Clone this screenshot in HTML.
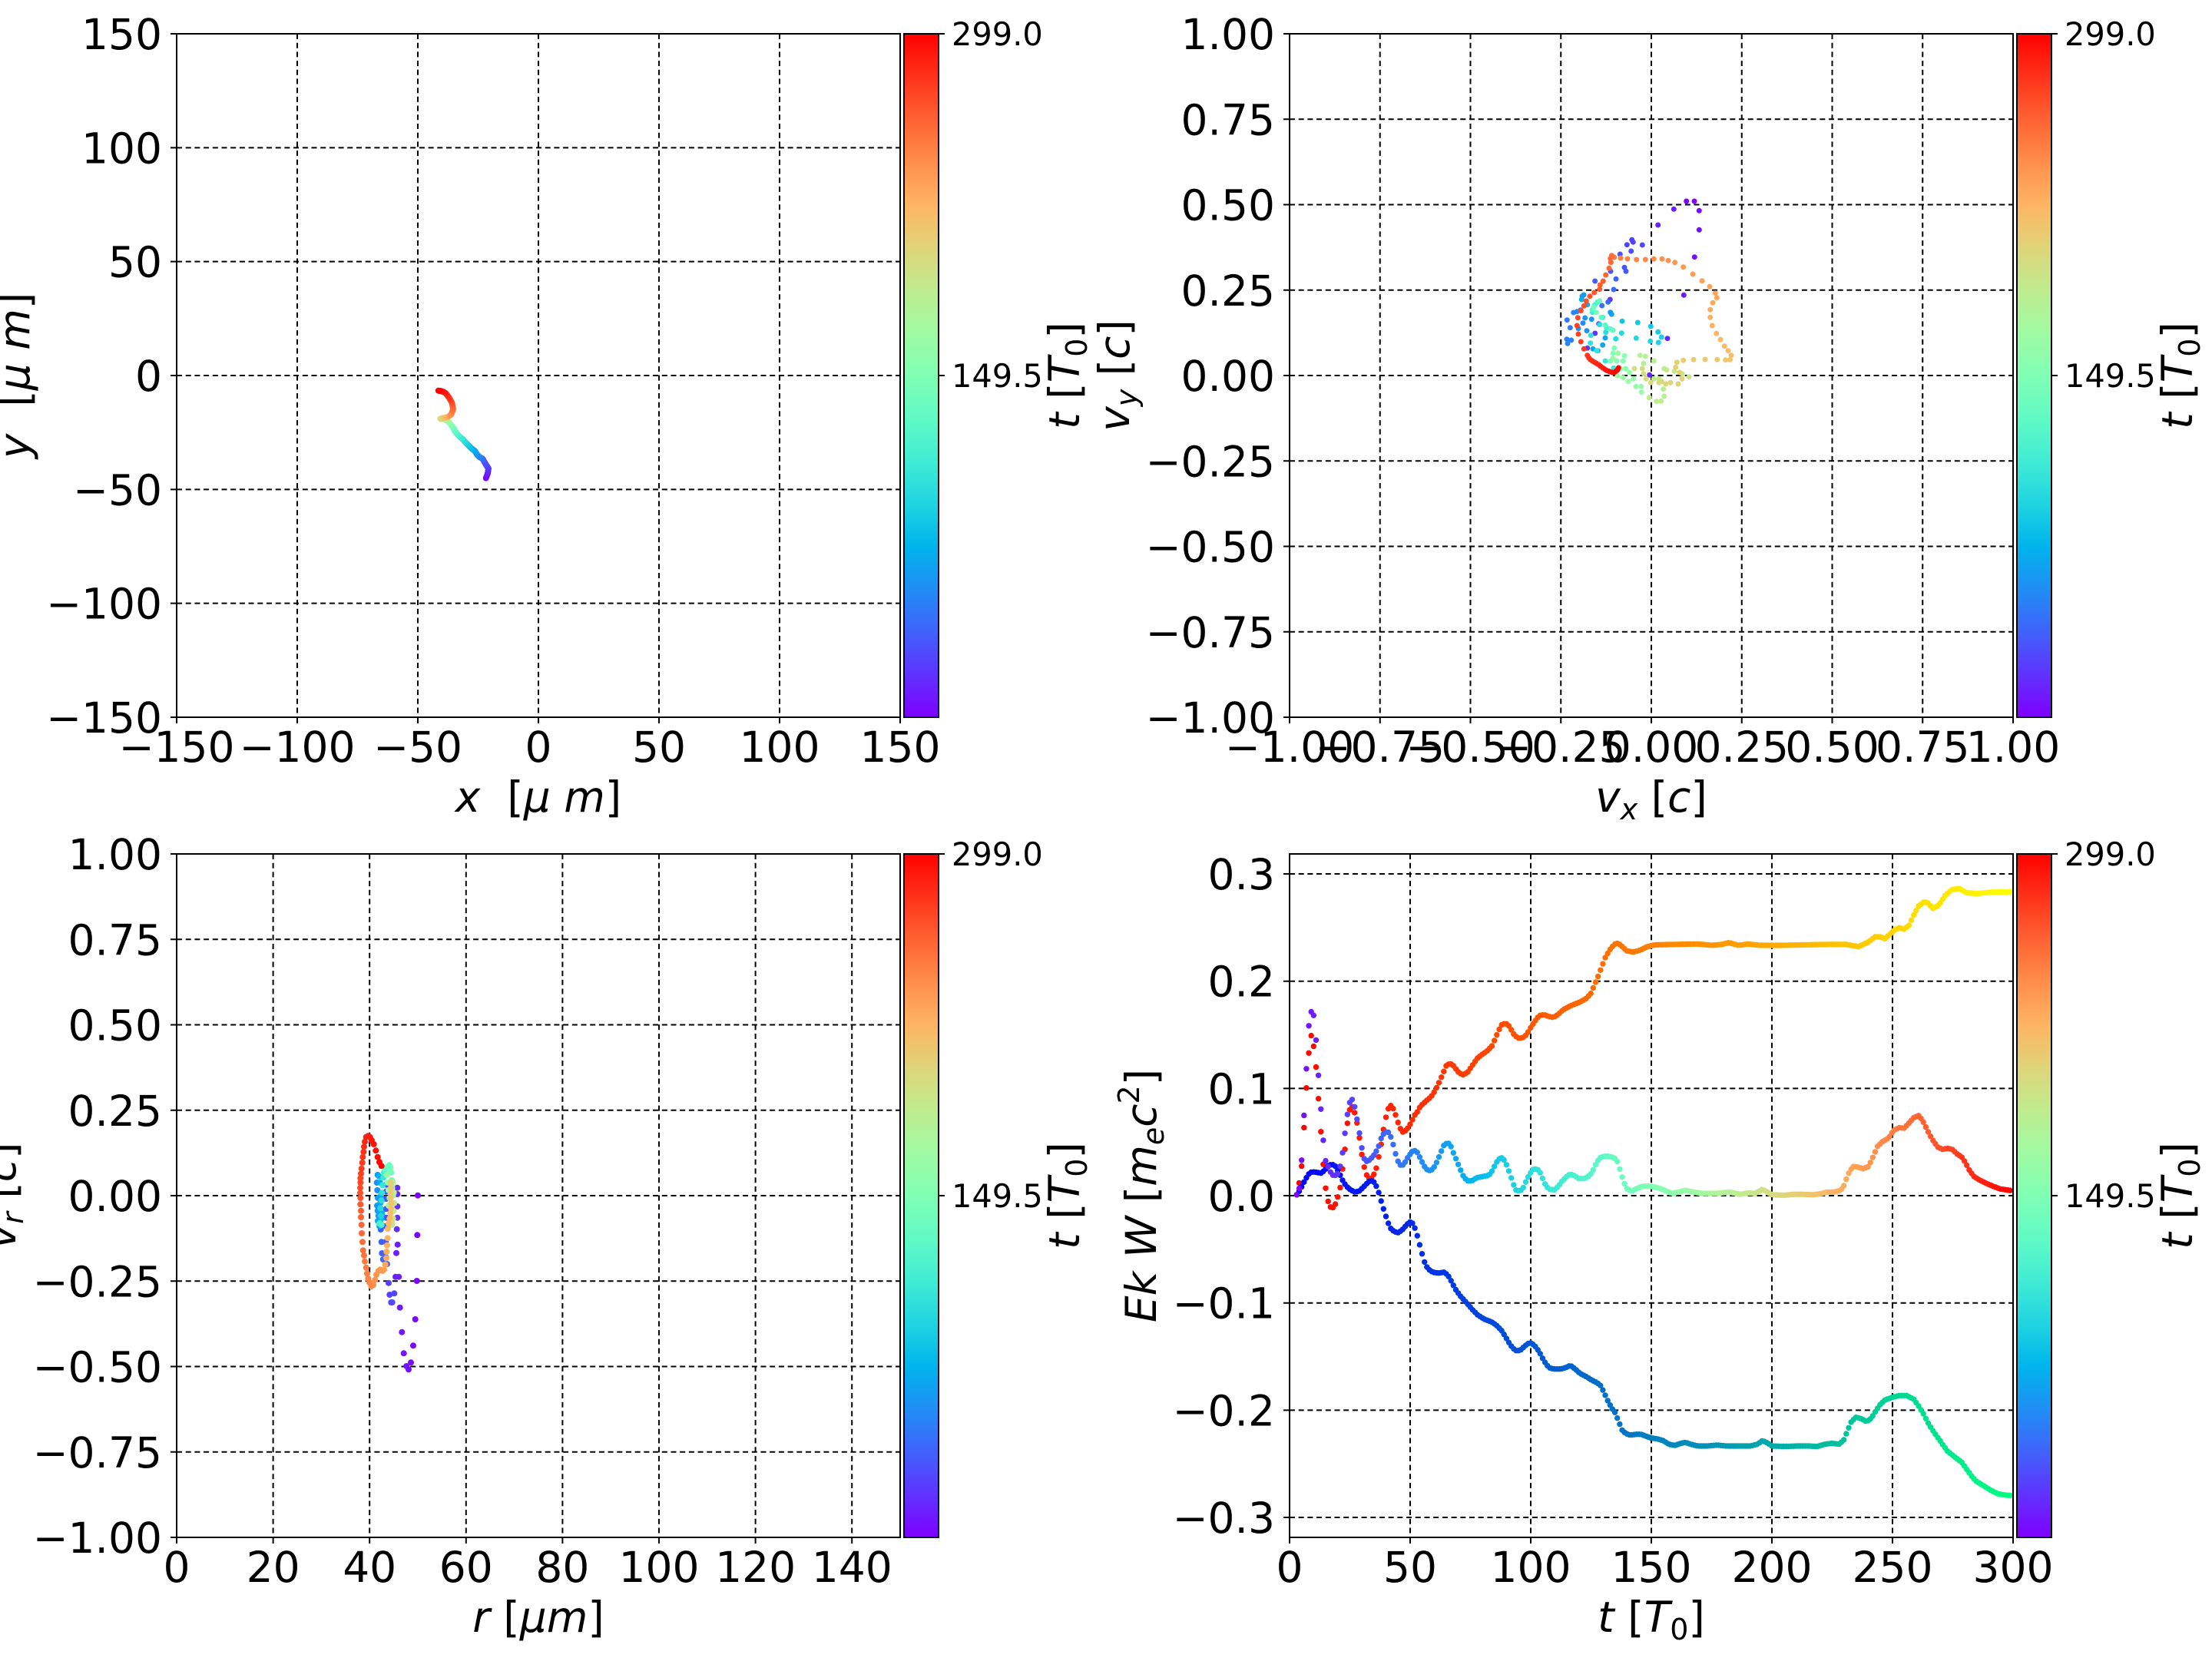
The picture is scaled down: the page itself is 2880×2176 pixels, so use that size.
<!DOCTYPE html>
<html><head><meta charset="utf-8"><style>
html,body{margin:0;padding:0;background:#fff;}
svg{display:block;}
text{font-family:"DejaVu Sans","Liberation Sans",sans-serif;fill:#000;white-space:pre;}
.tk{font-size:55px;}
.cb{font-size:41.5px;}
.lb{font-size:55px;}
.it{font-style:italic;}
.grid{stroke:#000;stroke-width:2;stroke-dasharray:7 4.7;fill:none;}
.tick{stroke:#000;stroke-width:2;fill:none;}
.spine{stroke:#000;stroke-width:2;fill:none;}
</style></head><body>
<svg id="svg" xmlns="http://www.w3.org/2000/svg" width="2880" height="2176" viewBox="0 0 2880 2176">
<defs>
<linearGradient id="rb" x1="0" y1="1" x2="0" y2="0">
<stop offset="0" stop-color="rgb(127,0,255)"/>
<stop offset="0.0625" stop-color="rgb(96,50,254)"/>
<stop offset="0.125" stop-color="rgb(64,98,250)"/>
<stop offset="0.1875" stop-color="rgb(32,142,244)"/>
<stop offset="0.25" stop-color="rgb(0,180,236)"/>
<stop offset="0.3125" stop-color="rgb(32,212,225)"/>
<stop offset="0.375" stop-color="rgb(64,236,212)"/>
<stop offset="0.4375" stop-color="rgb(96,250,197)"/>
<stop offset="0.5" stop-color="rgb(128,255,180)"/>
<stop offset="0.5625" stop-color="rgb(159,250,162)"/>
<stop offset="0.625" stop-color="rgb(191,236,142)"/>
<stop offset="0.6875" stop-color="rgb(223,212,120)"/>
<stop offset="0.75" stop-color="rgb(255,180,98)"/>
<stop offset="0.8125" stop-color="rgb(255,142,74)"/>
<stop offset="0.875" stop-color="rgb(255,98,50)"/>
<stop offset="0.9375" stop-color="rgb(255,50,25)"/>
<stop offset="1" stop-color="rgb(255,0,0)"/>
</linearGradient>
</defs>

<!-- GRIDS -->
<path class="grid" d="M387 44V934M544 44V934M701 44V934M858 44V934M1015 44V934M230 192.33H1172M230 340.67H1172M230 489H1172M230 637.33H1172M230 785.67H1172"/>
<path class="grid" d="M1796.75 44V934M1914.5 44V934M2032.25 44V934M2150 44V934M2267.75 44V934M2385.5 44V934M2503.25 44V934M1679 155.25H2621M1679 266.5H2621M1679 377.75H2621M1679 489H2621M1679 600.25H2621M1679 711.5H2621M1679 822.75H2621"/>
<path class="grid" d="M355.6 1112V2002M481.2 1112V2002M606.8 1112V2002M732.4 1112V2002M858 1112V2002M983.6 1112V2002M1109.2 1112V2002M230 1223.25H1172M230 1334.5H1172M230 1445.75H1172M230 1557H1172M230 1668.25H1172M230 1779.5H1172M230 1890.75H1172"/>
<path class="grid" d="M1836 1112V2002M1993 1112V2002M2150 1112V2002M2307 1112V2002M2464 1112V2002M1679 1138H2621M1679 1277.7H2621M1679 1417.4H2621M1679 1557H2621M1679 1696.7H2621M1679 1836.4H2621M1679 1976H2621"/>

<g id="dots"></g>

<!-- SPINES -->
<rect class="spine" x="230" y="44" width="942" height="890"/>
<rect class="spine" x="1679" y="44" width="942" height="890"/>
<rect class="spine" x="230" y="1112" width="942" height="890"/>
<rect class="spine" x="1679" y="1112" width="942" height="890"/>

<!-- TICKS -->
<path class="tick" d="M230 934v8M387 934v8M544 934v8M701 934v8M858 934v8M1015 934v8M1172 934v8M230 44h-8M230 192.33h-8M230 340.67h-8M230 489h-8M230 637.33h-8M230 785.67h-8M230 934h-8"/>
<path class="tick" d="M1679 934v8M1796.75 934v8M1914.5 934v8M2032.25 934v8M2150 934v8M2267.75 934v8M2385.5 934v8M2503.25 934v8M2621 934v8M1679 44h-8M1679 155.25h-8M1679 266.5h-8M1679 377.75h-8M1679 489h-8M1679 600.25h-8M1679 711.5h-8M1679 822.75h-8M1679 934h-8"/>
<path class="tick" d="M230 2002v8M355.6 2002v8M481.2 2002v8M606.8 2002v8M732.4 2002v8M858 2002v8M983.6 2002v8M1109.2 2002v8M230 1112h-8M230 1223.25h-8M230 1334.5h-8M230 1445.75h-8M230 1557h-8M230 1668.25h-8M230 1779.5h-8M230 1890.75h-8M230 2002h-8"/>
<path class="tick" d="M1679 2002v8M1836 2002v8M1993 2002v8M2150 2002v8M2307 2002v8M2464 2002v8M2621 2002v8M1679 1138h-8M1679 1277.7h-8M1679 1417.4h-8M1679 1557h-8M1679 1696.7h-8M1679 1836.4h-8M1679 1976h-8"/>

<!-- COLORBARS -->
<rect x="1177" y="44" width="45" height="890" fill="url(#rb)" stroke="#000" stroke-width="2"/>
<rect x="2626" y="44" width="45" height="890" fill="url(#rb)" stroke="#000" stroke-width="2"/>
<rect x="1177" y="1112" width="45" height="890" fill="url(#rb)" stroke="#000" stroke-width="2"/>
<rect x="2626" y="1112" width="45" height="890" fill="url(#rb)" stroke="#000" stroke-width="2"/>
<path class="tick" d="M1222 44h8M1222 489h8M2671 44h8M2671 489h8M1222 1112h8M1222 1557h8M2671 1112h8M2671 1557h8"/>
<text class="cb" x="1239" y="59">299.0</text>
<text class="cb" x="1239" y="504">149.5</text>
<text class="cb" x="2688" y="59">299.0</text>
<text class="cb" x="2688" y="504">149.5</text>
<text class="cb" x="1239" y="1127">299.0</text>
<text class="cb" x="1239" y="1572">149.5</text>
<text class="cb" x="2688" y="1127">299.0</text>
<text class="cb" x="2688" y="1572">149.5</text>

<text class="lb" text-anchor="middle" transform="translate(1405 489) rotate(-90)"><tspan class="it">t</tspan> [<tspan class="it">T</tspan><tspan font-size="38" dy="10">0</tspan><tspan dy="-10">]</tspan></text>
<text class="lb" text-anchor="middle" transform="translate(2854 489) rotate(-90)"><tspan class="it">t</tspan> [<tspan class="it">T</tspan><tspan font-size="38" dy="10">0</tspan><tspan dy="-10">]</tspan></text>
<text class="lb" text-anchor="middle" transform="translate(1405 1557) rotate(-90)"><tspan class="it">t</tspan> [<tspan class="it">T</tspan><tspan font-size="38" dy="10">0</tspan><tspan dy="-10">]</tspan></text>
<text class="lb" text-anchor="middle" transform="translate(2854 1557) rotate(-90)"><tspan class="it">t</tspan> [<tspan class="it">T</tspan><tspan font-size="38" dy="10">0</tspan><tspan dy="-10">]</tspan></text>

<!-- TL tick labels -->
<g class="tk" text-anchor="middle">
<text x="230" y="992">−150</text><text x="387" y="992">−100</text><text x="544" y="992">−50</text><text x="701" y="992">0</text><text x="858" y="992">50</text><text x="1015" y="992">100</text><text x="1172" y="992">150</text>
</g>
<g class="tk" text-anchor="end">
<text x="211" y="64">150</text><text x="211" y="212.33">100</text><text x="211" y="360.67">50</text><text x="211" y="509">0</text><text x="211" y="657.33">−50</text><text x="211" y="805.67">−100</text><text x="211" y="954">−150</text>
</g>
<!-- TR tick labels -->
<g class="tk" text-anchor="middle">
<text x="1679" y="992">−1.00</text><text x="1796.75" y="992">−0.75</text><text x="1914.5" y="992">−0.50</text><text x="2032.25" y="992">−0.25</text><text x="2150" y="992">0.00</text><text x="2267.75" y="992">0.25</text><text x="2385.5" y="992">0.50</text><text x="2503.25" y="992">0.75</text><text x="2621" y="992">1.00</text>
</g>
<g class="tk" text-anchor="end">
<text x="1660" y="64">1.00</text><text x="1660" y="175.25">0.75</text><text x="1660" y="286.5">0.50</text><text x="1660" y="397.75">0.25</text><text x="1660" y="509">0.00</text><text x="1660" y="620.25">−0.25</text><text x="1660" y="731.5">−0.50</text><text x="1660" y="842.75">−0.75</text><text x="1660" y="954">−1.00</text>
</g>
<!-- BL tick labels -->
<g class="tk" text-anchor="middle">
<text x="230" y="2060">0</text><text x="355.6" y="2060">20</text><text x="481.2" y="2060">40</text><text x="606.8" y="2060">60</text><text x="732.4" y="2060">80</text><text x="858" y="2060">100</text><text x="983.6" y="2060">120</text><text x="1109.2" y="2060">140</text>
</g>
<g class="tk" text-anchor="end">
<text x="211" y="1132">1.00</text><text x="211" y="1243.25">0.75</text><text x="211" y="1354.5">0.50</text><text x="211" y="1465.75">0.25</text><text x="211" y="1577">0.00</text><text x="211" y="1688.25">−0.25</text><text x="211" y="1799.5">−0.50</text><text x="211" y="1910.75">−0.75</text><text x="211" y="2022">−1.00</text>
</g>
<!-- BR tick labels -->
<g class="tk" text-anchor="middle">
<text x="1679" y="2060">0</text><text x="1836" y="2060">50</text><text x="1993" y="2060">100</text><text x="2150" y="2060">150</text><text x="2307" y="2060">200</text><text x="2464" y="2060">250</text><text x="2621" y="2060">300</text>
</g>
<g class="tk" text-anchor="end">
<text x="1660" y="1158">0.3</text><text x="1660" y="1297.7">0.2</text><text x="1660" y="1437.4">0.1</text><text x="1660" y="1577">0.0</text><text x="1660" y="1716.7">−0.1</text><text x="1660" y="1856.4">−0.2</text><text x="1660" y="1996">−0.3</text>
</g>

<!-- Axis labels -->
<text class="lb" x="701" y="1057" text-anchor="middle"><tspan class="it">x</tspan>  [<tspan class="it">μ</tspan> <tspan class="it">m</tspan>]</text>
<text class="lb" text-anchor="middle" transform="translate(38 489) rotate(-90)"><tspan class="it">y</tspan>  [<tspan class="it">μ</tspan> <tspan class="it">m</tspan>]</text>

<text class="lb" x="2150" y="1057" text-anchor="middle"><tspan class="it">v</tspan><tspan class="it" font-size="38" dy="10">x</tspan><tspan dy="-10"> [</tspan><tspan class="it">c</tspan>]</text>
<text class="lb" text-anchor="middle" transform="translate(1470 489) rotate(-90)"><tspan class="it">v</tspan><tspan class="it" font-size="38" dy="10">y</tspan><tspan dy="-10"> [</tspan><tspan class="it">c</tspan>]</text>

<text class="lb" x="701" y="2125" text-anchor="middle"><tspan class="it">r</tspan> [<tspan class="it">μm</tspan>]</text>
<text class="lb" text-anchor="middle" transform="translate(20 1557) rotate(-90)"><tspan class="it">v</tspan><tspan class="it" font-size="38" dy="10">r</tspan><tspan dy="-10"> [</tspan><tspan class="it">c</tspan>]</text>

<text class="lb" x="2150" y="2125" text-anchor="middle"><tspan class="it">t</tspan> [<tspan class="it">T</tspan><tspan font-size="38" dy="10">0</tspan><tspan dy="-10">]</tspan></text>
<text class="lb" text-anchor="middle" transform="translate(1505 1557) rotate(-90)"><tspan class="it">Ek W</tspan> [<tspan class="it">m</tspan><tspan class="it" font-size="38" dy="10">e</tspan><tspan class="it" dy="-10">c</tspan><tspan font-size="38" dy="-22">2</tspan><tspan dy="22">]</tspan></text>
</svg>
<script>
(function(){
var NS='http://www.w3.org/2000/svg';
var G=document.getElementById('dots');
function clamp(v){return Math.max(0,Math.min(1,v));}
function c255(r,g,b){return 'rgb('+Math.round(clamp(r)*255)+','+Math.round(clamp(g)*255)+','+Math.round(clamp(b)*255)+')';}
function rainbow(f){f=clamp(f);return c255(Math.abs(2*f-0.5),Math.sin(Math.PI*f),Math.cos(Math.PI*f/2));}
function autumn(f){f=clamp(f);return c255(1,f,0);}
function winter(f){f=clamp(f);return c255(0,f,1-0.5*f);}
function dot(x,y,r,col){var c=document.createElementNS(NS,'circle');c.setAttribute('cx',x.toFixed(1));c.setAttribute('cy',y.toFixed(1));c.setAttribute('r',r);c.setAttribute('fill',col);G.appendChild(c);}
function grp(pts,f0,f1,ox,oy,r){var n=pts.length;for(var i=0;i<n;i++){var f=n>1?f0+(f1-f0)*i/(n-1):f0;dot(ox+pts[i][0]/3,oy+pts[i][1]/3,r,rainbow(f));}}

/* ---- Top-left: x-y trajectory ---- */
var tl=[[278,428,0],[285,410,0.03],[288,390,0.06],[280,378,0.08],[272,365,0.1],[265,352,0.13],[252,345,0.16],[243,335,0.19],[235,322,0.22],[222,312,0.25],[210,300,0.28],[200,290,0.31],[190,278,0.34],[178,268,0.37],[165,255,0.4],[158,245,0.43],[150,230,0.46],[140,218,0.5],[130,205,0.55],[115,198,0.6],[100,196,0.65],[110,193,0.7],[128,190,0.75],[142,180,0.8],[150,160,0.85],[146,135,0.89],[135,115,0.93],[120,95,0.96],[105,88,0.98],[92,86,1.0]];
for(var i=0;i<tl.length-1;i++){var a=tl[i],b=tl[i+1];for(var k=0;k<8;k++){var u=k/8;dot(540+(a[0]+(b[0]-a[0])*u)/3,480+(a[1]+(b[1]-a[1])*u)/3,3.9,rainbow(a[2]+(b[2]-a[2])*u));}}
var e=tl[tl.length-1];dot(540+e[0]/3,480+e[1]/3,3.9,rainbow(1));

/* ---- Top-right: vx-vy ---- */
var OX=1900,OY=240,R=3.5;
grp([[887,66],[918,66],[937,103],[937,178],[919,284],[877,433],[838,97],[776,159],[813,602],[743,745]],0.0,0.05,OX,OY,R);
grp([[589,450],[530,582],[500,640],[545,545],[674,217],[679,226],[655,236],[715,237],[671,261],[628,273],[645,325],[651,340],[591,340],[530,378],[612,370],[603,411],[581,460],[557,474]],0.06,0.14,OX,OY,R);
grp([[421,530],[433,560],[420,605],[437,609],[423,622],[446,501],[460,497],[474,491],[483,542],[465,563],[498,572],[517,527],[491,522],[480,437],[486,432],[590,500],[595,508],[570,600],[560,628],[541,650],[522,643],[478,450],[500,470]],0.16,0.24,OX,OY,R);
grp([[636,535],[697,540],[748,555],[776,577],[790,597],[778,618],[746,613],[691,601],[634,581],[611,604],[572,578],[548,548],[514,590],[512,620],[537,650],[570,690],[603,718],[520,500],[560,520],[575,560]],0.28,0.38,OX,OY,R);
grp([[540,460],[530,470],[520,490],[555,520],[570,550],[590,565],[600,570],[548,455],[525,480],[535,500]],0.4,0.47,OX,OY,R);
grp([[605,640],[600,660],[590,690],[615,690],[640,690],[645,670],[630,720],[650,720],[665,735],[680,760],[690,790],[710,790],[712,812],[660,770],[640,755],[618,748],[600,680],[620,660]],0.5,0.56,OX,OY,R);
grp([[706,668],[727,672],[720,700],[760,690],[800,720],[797,800],[800,828],[770,848],[788,847],[742,833],[760,760],[780,760],[840,730],[870,740],[897,752],[810,725]],0.6,0.64,OX,OY,R);
grp([[684,720],[715,720],[720,740],[730,760],[748,775],[780,775],[790,770],[806,780],[825,775],[855,780],[870,760],[860,735],[845,715],[850,695],[875,688],[915,685],[960,684],[1007,685],[1040,686],[1058,685]],0.66,0.72,OX,OY,R);
grp([[1062,668],[1050,650],[1036,632],[1020,607],[1004,583],[988,552],[980,520],[980,490],[990,463],[1006,443],[1000,425],[978,400],[948,377],[912,351],[875,323],[842,305],[816,298],[792,292],[760,292],[727,294],[692,294],[657,291],[630,288],[605,285]],0.73,0.84,OX,OY,R);
grp([[595,278],[590,290],[592,305],[585,328],[572,354],[562,378],[550,393],[548,410],[527,423],[510,437],[496,456],[487,475],[475,494],[463,521],[460,552],[465,585],[475,615],[487,643],[500,668],[506,678],[512,685],[520,690],[528,695],[536,700],[545,705],[552,711],[560,717],[568,722],[575,727],[583,730],[590,733],[598,735],[605,735],[612,730],[618,725],[622,717]],0.86,1.0,OX,OY,R);

/* ---- Bottom-left: r-vr ---- */
OX=420;OY=1440;R=4.0;
grp([[372,350],[370,505],[368,684],[362,834],[354,937],[345,1003],[336,1030],[328,1017],[317,967],[310,884],[302,788],[293,542],[288,575],[285,668],[298,668],[292,320],[292,345],[292,393],[292,437],[290,482]],0.0,0.06,OX,OY,R);
grp([[258,692],[262,738],[280,733],[268,768],[272,768],[248,308],[248,335],[248,363],[248,403],[248,437],[245,470],[227,483],[230,532],[247,532],[232,576],[244,576],[236,600],[252,618],[248,592]],0.08,0.14,OX,OY,R);
grp([[215,270],[212,300],[214,330],[216,360],[213,390],[215,410],[218,430],[216,450],[222,470],[225,380],[228,350],[224,300],[220,275],[232,420],[230,440]],0.18,0.26,OX,OY,R);
grp([[225,455],[228,430],[226,400],[230,370],[232,340],[235,310],[238,280],[240,260],[222,460],[230,465]],0.3,0.4,OX,OY,R);
grp([[245,250],[252,240],[260,232],[265,240],[268,260],[270,290],[272,320],[275,350],[272,380],[270,410],[268,440],[270,465],[250,270],[255,300],[258,330],[262,360],[258,390]],0.44,0.56,OX,OY,R);
grp([[275,300],[278,340],[280,380],[278,410],[275,440],[272,460]],0.6,0.66,OX,OY,R);
grp([[266,300],[267,320],[266,340],[266,360],[268,380],[267,400],[265,420],[262,440],[258,460],[255,480],[254,517],[252,545],[250,570],[249,595],[245,620],[240,640],[235,645],[225,640],[218,645],[210,660],[205,680],[198,700],[190,705],[183,690],[178,675],[174,655],[170,632],[165,608],[162,585],[158,565],[156,532],[153,498],[152,465],[150,435],[150,410],[148,385],[148,360],[147,340],[147,320],[148,300],[148,283],[150,265],[152,245],[155,222],[157,200],[160,180],[162,160],[165,140],[170,122],[178,118],[185,122],[192,135],[200,150],[208,175],[215,200],[222,220],[230,235]],0.7,1.0,OX,OY,R);

/* ---- Bottom-right: Ek W vs t ---- */
function curve(pts,cmap){var j=0,last=pts[pts.length-1][0];for(var X=pts[0][0];X<=last+0.01;X+=5.02){while(j<pts.length-2&&pts[j+1][0]<X)j++;var a=pts[j],b=pts[j+1];var u=clamp((X-a[0])/(b[0]-a[0]));var Y=a[1]+(b[1]-a[1])*u;dot(1679+(X-30)/1507*942,1112+(Y-19)/1518*890,3.7,cmap((X-30)/1507));}}
var top=[[45,776],[50,750],[55,713],[60,628],[65,540],[70,462],[75,422],[80,445],[85,490],[90,560],[95,633],[100,706],[105,760],[110,790],[115,803],[122,805],[128,790],[135,763],[140,722],[146,670],[150,620],[155,588],[160,580],[168,600],[176,653],[181,690],[186,717],[193,740],[200,740],[206,730],[211,716],[216,690],[222,657],[227,622],[233,593],[238,578],[243,578],[249,592],[254,610],[260,628],[267,638],[275,630],[283,616],[290,600],[296,592],[302,580],[312,570],[325,558],[333,545],[340,530],[345,518],[350,505],[356,490],[364,484],[372,490],[380,502],[390,510],[400,505],[410,490],[420,474],[430,465],[440,458],[452,445],[460,425],[466,410],[472,398],[480,395],[488,402],[496,418],[505,428],[515,428],[524,420],[532,405],[540,392],[550,378],[560,376],[570,380],[580,382],[590,375],[600,365],[612,358],[625,352],[635,348],[648,340],[658,328],[665,310],[673,290],[680,270],[688,248],[697,232],[706,220],[714,217],[722,224],[732,234],[745,237],[760,233],[775,225],[790,221],[830,220],[880,219],[910,222],[930,220],[945,216],[965,222],[985,219],[1010,222],[1050,222],[1100,221],[1150,220],[1190,220],[1215,225],[1235,215],[1250,203],[1260,203],[1270,207],[1280,198],[1290,188],[1300,183],[1310,186],[1320,178],[1330,155],[1340,135],[1352,125],[1360,128],[1370,140],[1382,133],[1395,112],[1410,98],[1425,96],[1440,105],[1460,107],[1490,104],[1535,103]];
var mid=[[45,776],[50,762],[55,700],[60,601],[65,498],[69,410],[74,368],[80,376],[85,430],[90,508],[95,583],[100,653],[105,700],[112,718],[118,732],[125,733],[130,730],[135,715],[140,686],[145,643],[150,600],[155,572],[160,563],[165,578],[170,605],[176,642],[181,675],[186,698],[192,703],[200,695],[208,685],[215,670],[221,650],[228,637],[235,636],[240,645],[246,665],[252,690],[258,708],[264,712],[270,705],[278,690],[288,677],[295,680],[300,690],[306,703],[312,715],[318,722],[325,722],[333,712],[340,695],[347,677],[352,665],[360,660],[367,670],[372,685],[378,700],[385,718],[392,735],[400,745],[410,745],[420,738],[435,735],[445,733],[452,723],[458,710],[465,697],[472,694],[478,700],[484,715],[490,733],[496,752],[502,766],[510,768],[517,760],[523,745],[530,730],[537,720],[545,718],[552,727],[558,742],[564,757],[572,764],[582,765],[590,757],[598,745],[606,737],[614,730],[622,733],[632,740],[645,740],[656,732],[664,718],[670,703],[678,693],[690,690],[705,693],[712,700],[718,720],[725,745],[732,762],[742,768],[752,763],[765,757],[780,757],[795,760],[805,763],[815,768],[827,773],[840,770],[855,766],[870,770],[890,773],[920,773],[945,770],[960,773],[970,775],[985,772],[1000,773],[1015,764],[1025,770],[1035,776],[1060,777],[1080,775],[1100,775],[1120,776],[1135,774],[1150,770],[1165,770],[1178,766],[1185,755],[1190,740],[1197,722],[1205,713],[1215,715],[1225,718],[1235,714],[1242,700],[1248,685],[1255,668],[1265,658],[1278,650],[1288,633],[1300,627],[1310,628],[1320,617],[1330,605],[1340,600],[1348,610],[1355,625],[1362,640],[1370,655],[1380,670],[1390,675],[1400,673],[1410,675],[1420,685],[1430,692],[1438,705],[1445,720],[1455,735],[1465,742],[1480,750],[1495,757],[1510,763],[1535,767]];
var bot=[[45,776],[52,765],[58,752],[64,740],[70,730],[76,725],[85,726],[95,728],[103,722],[110,712],[118,708],[125,712],[133,727],[140,743],[148,757],[157,765],[166,770],[175,768],[183,760],[190,752],[197,745],[204,745],[210,755],[216,772],[222,795],[228,815],[234,835],[240,850],[248,858],[256,860],[264,855],[272,845],[280,836],[287,840],[293,855],[298,875],[303,895],[308,915],[313,932],[320,942],[328,948],[340,950],[352,948],[360,955],[368,970],[375,985],[385,1000],[398,1015],[410,1030],[422,1043],[435,1052],[450,1058],[460,1065],[472,1078],[480,1092],[490,1110],[500,1122],[510,1122],[520,1112],[530,1104],[540,1110],[550,1125],[560,1145],[570,1160],[580,1163],[595,1163],[605,1160],[615,1155],[625,1163],[635,1173],[648,1180],[660,1188],[670,1193],[678,1200],[685,1215],[692,1232],[700,1248],[708,1260],[715,1278],[722,1298],[730,1306],[740,1310],[752,1308],[762,1308],[772,1312],[782,1316],[795,1318],[808,1322],[820,1330],[832,1333],[845,1328],[855,1326],[865,1330],[880,1334],[900,1334],[920,1332],[940,1334],[965,1334],[990,1334],[1005,1330],[1015,1322],[1025,1327],[1035,1334],[1060,1335],[1090,1334],[1110,1334],[1130,1335],[1145,1330],[1160,1328],[1175,1330],[1185,1320],[1192,1300],[1200,1280],[1210,1270],[1220,1273],[1232,1280],[1242,1272],[1250,1258],[1260,1242],[1270,1232],[1285,1226],[1300,1222],[1315,1222],[1330,1230],[1340,1245],[1350,1262],[1360,1283],[1370,1300],[1380,1315],[1390,1330],[1400,1345],[1415,1358],[1430,1370],[1440,1385],[1450,1400],[1460,1412],[1475,1422],[1490,1432],[1505,1440],[1520,1443],[1535,1444]];
curve(top,autumn);
curve(bot,winter);
curve(mid,rainbow);
})();
</script>
</body></html>
